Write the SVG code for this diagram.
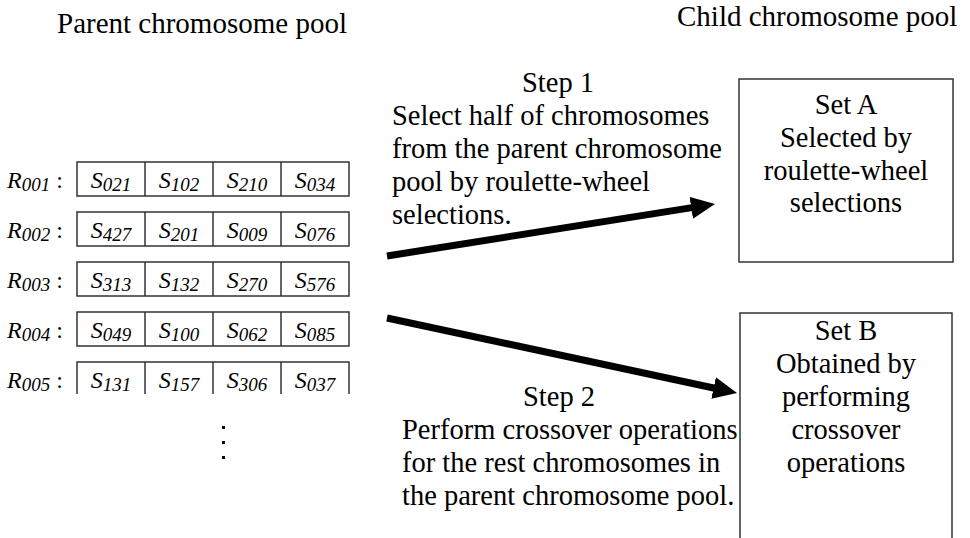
<svg xmlns="http://www.w3.org/2000/svg" width="970" height="538" viewBox="0 0 970 538">
<style>
text{font-family:"Liberation Serif","Times New Roman",serif;fill:#000}
.t{font-size:28.5px}
.it{font-size:24px;font-style:italic}
.sub{font-size:19px}
.cell{fill:#fff;stroke:#333;stroke-width:1.5}
.box{fill:#fff;stroke:#333;stroke-width:1.5}
.arr{stroke:#000;stroke-width:7;fill:none}
.mid{text-anchor:middle}
</style>
<defs>
<marker id="ah" markerUnits="userSpaceOnUse" markerWidth="26" markerHeight="24" refX="12" refY="11" orient="auto">
<path d="M0,0 L24,11 L0,22 z" fill="#000"/>
</marker>
</defs>
<rect width="970" height="538" fill="#fff"/>
<text class="t" x="57" y="33" style="font-size:29px">Parent chromosome pool</text>
<text class="t" x="677" y="26" style="font-size:29px">Child chromosome pool</text>

<g id="row1">
<rect class="cell" x="77" y="162" width="272" height="34"/>
<path class="cell" d="M145,162V196M213,162V196M281,162V196"/>
<text class="it" x="7" y="188">R<tspan class="sub" dy="3">001</tspan><tspan dy="-3" font-style="normal"> :</tspan></text>
<text class="it mid" x="111" y="188">S<tspan class="sub" dy="3">021</tspan></text>
<text class="it mid" x="179" y="188">S<tspan class="sub" dy="3">102</tspan></text>
<text class="it mid" x="247" y="188">S<tspan class="sub" dy="3">210</tspan></text>
<text class="it mid" x="315" y="188">S<tspan class="sub" dy="3">034</tspan></text>
</g>
<g id="row2">
<rect class="cell" x="77" y="212" width="272" height="34"/>
<path class="cell" d="M145,212V246M213,212V246M281,212V246"/>
<text class="it" x="7" y="238">R<tspan class="sub" dy="3">002</tspan><tspan dy="-3" font-style="normal"> :</tspan></text>
<text class="it mid" x="111" y="238">S<tspan class="sub" dy="3">427</tspan></text>
<text class="it mid" x="179" y="238">S<tspan class="sub" dy="3">201</tspan></text>
<text class="it mid" x="247" y="238">S<tspan class="sub" dy="3">009</tspan></text>
<text class="it mid" x="315" y="238">S<tspan class="sub" dy="3">076</tspan></text>
</g>
<g id="row3">
<rect class="cell" x="77" y="262" width="272" height="34"/>
<path class="cell" d="M145,262V296M213,262V296M281,262V296"/>
<text class="it" x="7" y="288">R<tspan class="sub" dy="3">003</tspan><tspan dy="-3" font-style="normal"> :</tspan></text>
<text class="it mid" x="111" y="288">S<tspan class="sub" dy="3">313</tspan></text>
<text class="it mid" x="179" y="288">S<tspan class="sub" dy="3">132</tspan></text>
<text class="it mid" x="247" y="288">S<tspan class="sub" dy="3">270</tspan></text>
<text class="it mid" x="315" y="288">S<tspan class="sub" dy="3">576</tspan></text>
</g>
<g id="row4">
<rect class="cell" x="77" y="312" width="272" height="34"/>
<path class="cell" d="M145,312V346M213,312V346M281,312V346"/>
<text class="it" x="7" y="338">R<tspan class="sub" dy="3">004</tspan><tspan dy="-3" font-style="normal"> :</tspan></text>
<text class="it mid" x="111" y="338">S<tspan class="sub" dy="3">049</tspan></text>
<text class="it mid" x="179" y="338">S<tspan class="sub" dy="3">100</tspan></text>
<text class="it mid" x="247" y="338">S<tspan class="sub" dy="3">062</tspan></text>
<text class="it mid" x="315" y="338">S<tspan class="sub" dy="3">085</tspan></text>
</g>
<g id="row5">
<path class="cell" fill="none" d="M77,394V362H349V394M145,362V394M213,362V394M281,362V394"/>
<text class="it" x="7" y="388">R<tspan class="sub" dy="3">005</tspan><tspan dy="-3" font-style="normal"> :</tspan></text>
<text class="it mid" x="111" y="388">S<tspan class="sub" dy="3">131</tspan></text>
<text class="it mid" x="179" y="388">S<tspan class="sub" dy="3">157</tspan></text>
<text class="it mid" x="247" y="388">S<tspan class="sub" dy="3">306</tspan></text>
<text class="it mid" x="315" y="388">S<tspan class="sub" dy="3">037</tspan></text>
</g>
<g id="ellipsis" fill="#000">
<rect x="222" y="426" width="3" height="3"/>
<rect x="222" y="441" width="3" height="3"/>
<rect x="222" y="456" width="3" height="3"/>
</g>

<g id="setA">
<rect class="box" x="739" y="79" width="214" height="183"/>
<text class="t mid" x="846" y="114">Set A</text>
<text class="t mid" x="846" y="147">Selected by</text>
<text class="t mid" x="846" y="180">roulette-wheel</text>
<text class="t mid" x="846" y="212">selections</text>
</g>
<g id="setB">
<rect class="box" x="740" y="313" width="212" height="245"/>
<text class="t mid" x="846" y="340">Set B</text>
<text class="t mid" x="846" y="373">Obtained by</text>
<text class="t mid" x="846" y="406">performing</text>
<text class="t mid" x="846" y="439">crossover</text>
<text class="t mid" x="846" y="472">operations</text>
</g>

<g id="step1">
<text class="t" x="522" y="92">Step 1</text>
<text class="t" x="392" y="125">Select half of chromosomes</text>
<text class="t" x="392" y="158">from the parent chromosome</text>
<text class="t" x="392" y="191">pool by roulette-wheel</text>
<text class="t" x="392" y="224">selections.</text>
</g>
<g id="step2">
<text class="t" x="523" y="406">Step 2</text>
<text class="t" x="402" y="439">Perform crossover operations</text>
<text class="t" x="402" y="472">for the rest chromosomes in</text>
<text class="t" x="402" y="505">the parent chromosome pool.</text>
</g>

<g id="connectors">
<line class="arr" x1="387" y1="256" x2="703.1" y2="205.9" marker-end="url(#ah)"/>
<line class="arr" x1="387" y1="318" x2="725.3" y2="390.5" marker-end="url(#ah)"/>
</g>
</svg>
